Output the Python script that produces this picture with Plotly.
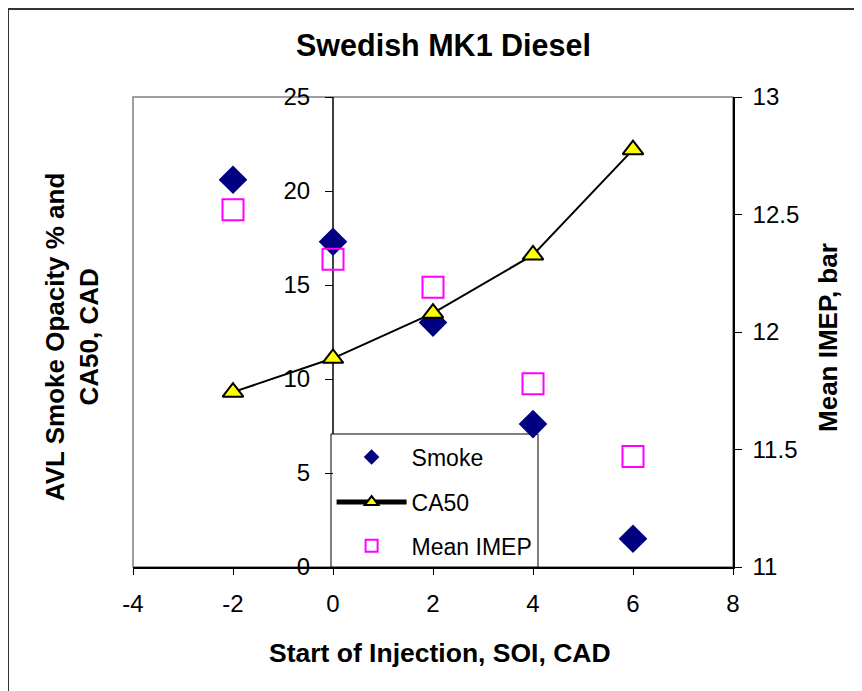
import plotly.graph_objects as go

# ---- data ----
soi = [-2, 0, 2, 4, 6]
smoke = [20.6, 17.3, 13.0, 7.6, 1.5]
ca50 = [9.3, 11.1, 13.5, 16.6, 22.2]
mean_imep = [12.52, 12.31, 12.19, 11.78, 11.47]

x_ticks = [-4, -2, 0, 2, 4, 6, 8]
x_tick_labels = ["-4", "-2", "0", "2", "4", "6", "8"]
y_left_ticks = [0, 5, 10, 15, 20, 25]
y_right_ticks = [11, 11.5, 12, 12.5, 13]
y_right_labels = ["11", "11.5", "12", "12.5", "13"]

FONT = "Arial, Liberation Sans, sans-serif"

fig = go.Figure()

fig.add_trace(go.Scatter(
    x=soi, y=smoke, name="Smoke", mode="markers",
    marker=dict(symbol="diamond", size=22, color="#000080", line=dict(width=0)),
    legend="legend", yaxis="y"))
fig.add_trace(go.Scatter(
    x=soi, y=ca50, name="CA50", mode="lines+markers",
    line=dict(color="black", width=2),
    marker=dict(symbol="triangle-up", size=18, color="#FFFF00",
                line=dict(color="black", width=2)),
    legend="legend2", yaxis="y"))
fig.add_trace(go.Scatter(
    x=soi, y=mean_imep, name="Mean IMEP", mode="markers",
    marker=dict(symbol="square-open", size=21, color="#FF00FF",
                line=dict(color="#FF00FF", width=2)),
    legend="legend3", yaxis="y2"))

tickfont = dict(family=FONT, size=24, color="black")

# the page body has an 8px margin, so the figure is offset by 8px;
# dimensions/margins compensate for it
fig.update_layout(
    width=854, height=683,
    margin=dict(l=125, r=129, t=89, b=124),
    paper_bgcolor="white", plot_bgcolor="white",
    font=dict(family=FONT, color="black"),
    xaxis=dict(range=[-4, 8], tickvals=x_ticks, ticktext=x_tick_labels,
               showgrid=False, zeroline=False,
               showline=True, linecolor="black", linewidth=1.5,
               ticks="outside", ticklen=6, tickcolor="black", tickwidth=1,
               ticklabelstandoff=8, tickfont=tickfont),
    yaxis=dict(range=[0, 25], tickvals=y_left_ticks, anchor="free", position=1/3,
               showgrid=False, zeroline=False, showline=False,
               ticks="outside", ticklen=8, tickcolor="black", tickwidth=1,
               ticklabelstandoff=10, tickfont=tickfont),
    yaxis2=dict(range=[11, 13], tickvals=y_right_ticks, ticktext=y_right_labels,
                overlaying="y", side="right",
                anchor="x", showgrid=False, zeroline=False,
                showline=True, linecolor="black", linewidth=1.5,
                ticks="outside", ticklen=7, tickcolor="black", tickwidth=1,
                ticklabelstandoff=6, tickfont=tickfont),
    yaxis3=dict(range=[11, 13], tickvals=y_right_ticks, overlaying="y", side="right",
                anchor="x", showgrid=False, zeroline=False, showline=False,
                ticks="inside", ticklen=6, tickcolor="black", tickwidth=1,
                showticklabels=False),
    showlegend=True,
)

legend_common = dict(font=dict(family=FONT, size=23, color="black"),
                     bgcolor="rgba(0,0,0,0)", borderwidth=0, itemsizing="constant",
                     xanchor="left", yanchor="middle", itemwidth=70)
fig.update_layout(
    legend=dict(x=0.331, y=0.234, **legend_common),
    legend2=dict(x=0.331, y=0.138, **legend_common),
    legend3=dict(x=0.331, y=0.045, **legend_common),
)

shapes = [
    # plot area frame (gray)
    dict(type="rect", xref="paper", yref="paper", x0=0, y0=0, x1=1, y1=1,
         line=dict(color="#808080", width=1.5), layer="below"),
    # left value axis line (crosses at x = 0), ends at legend box
    dict(type="line", xref="paper", yref="paper", x0=1/3, x1=1/3, y0=0.283, y1=1,
         line=dict(color="black", width=1.5), layer="below"),
    # legend box
    dict(type="rect", xref="paper", yref="paper", x0=0.33, x1=0.675, y0=0, y1=0.283,
         fillcolor="white", line=dict(color="black", width=1), layer="below"),
    # outer chart frame (left and top edges visible)
    dict(type="line", xref="paper", yref="paper", x0=-0.2083, x1=-0.2083, y0=-0.4, y1=1.1872,
         line=dict(color="#333333", width=2)),
    dict(type="line", xref="paper", yref="paper", x0=-0.2083, x1=1.4, y0=1.1872, y1=1.1872,
         line=dict(color="#333333", width=2)),
]
fig.update_layout(shapes=shapes)

annotations = [
    dict(text="Swedish MK1 Diesel", x=0.517, y=1.1106, xref="paper", yref="paper",
         showarrow=False, xanchor="center", yanchor="middle",
         font=dict(family=FONT, size=30.5, color="black", weight="bold")),
    dict(text="Start of Injection, SOI, CAD", x=0.512, y=-0.183, xref="paper", yref="paper",
         showarrow=False, xanchor="center", yanchor="middle",
         font=dict(family=FONT, size=26.5, color="black", weight="bold")),
    dict(text="AVL Smoke Opacity % and<br>CA50, CAD", x=-0.1017, y=0.489,
         xref="paper", yref="paper", showarrow=False, textangle=-90,
         xanchor="center", yanchor="middle",
         font=dict(family=FONT, size=26, color="black", weight="bold")),
    dict(text="Mean IMEP, bar", x=1.158, y=0.489, xref="paper", yref="paper",
         showarrow=False, textangle=-90, xanchor="center", yanchor="middle",
         font=dict(family=FONT, size=26, color="black", weight="bold")),
]
fig.update_layout(annotations=annotations)

fig.write_html("out.html")
